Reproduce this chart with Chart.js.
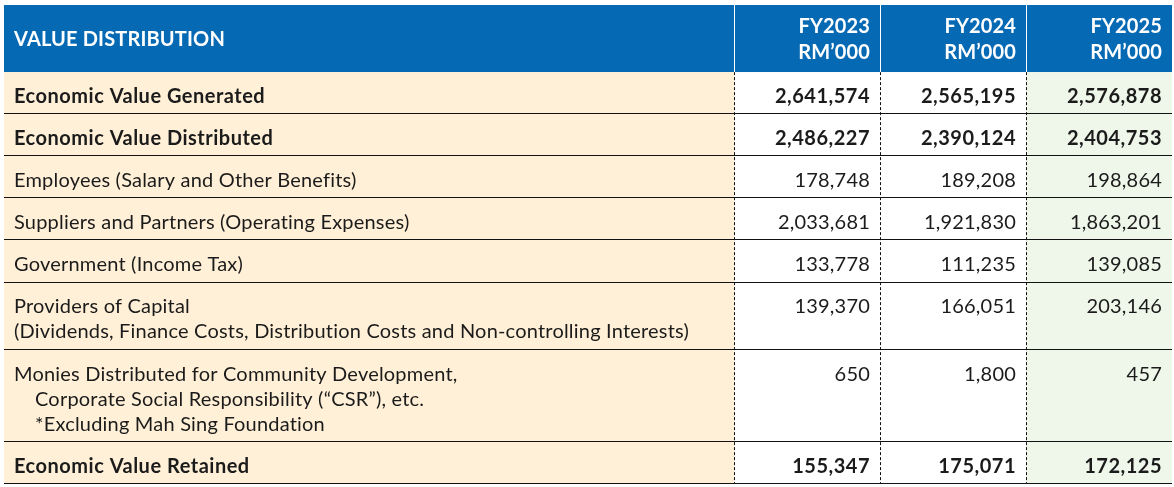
<!DOCTYPE html>
<html>
<head>
<meta charset="utf-8">
<script src="https://cdn.jsdelivr.net/npm/chart.js@4"></script>
<style>
  html, body { margin: 0; padding: 0; background: #fff; }
  #box { width: 1174px; height: 487px; }
</style>
</head>
<body>
<div id="box"><canvas id="tableCanvas"></canvas></div>
<script>
// table content
const titleLabel = "VALUE DISTRIBUTION";
const years = ["FY2023", "FY2024", "FY2025"];
const unitLabel = "RM\u2019000";
const rowLabels = [
    ["Economic Value Generated"],
    ["Economic Value Distributed"],
    ["Employees (Salary and Other Benefits)"],
    ["Suppliers and Partners (Operating Expenses)"],
    ["Government (Income Tax)"],
    ["Providers of Capital", "(Dividends, Finance Costs, Distribution Costs and Non-controlling Interests)"],
    ["Monies Distributed for Community Development,", "Corporate Social Responsibility (\u201cCSR\u201d), etc.", "*Excluding Mah Sing Foundation"],
    ["Economic Value Retained"]
];
const fy2023 = [2641574, 2486227, 178748, 2033681, 133778, 139370, 650, 155347];
const fy2024 = [2565195, 2390124, 189208, 1921830, 111235, 166051, 1800, 175071];
const fy2025 = [2576878, 2404753, 198864, 1863201, 139085, 203146, 457, 172125];
const boldRows = [0, 1, 7];

const series = [fy2023, fy2024, fy2025];

// column edges in x units: label column is 5 units, each year 1 unit
const colEdges = [0, 5, 6, 7, 8];
// row heights in "line" units
const pad = 0.68;
const headerLines = 2;
const rowTops = [];
let acc = headerLines + pad;
rowLabels.forEach(lines => { rowTops.push(acc); acc += lines.length + pad; });
const totalUnits = acc;

const BLUE = "#0669b4";
const CREAM = "#fff0d7";
const GREEN = "#eff6ea";
const INK = "#1b1b1b";
const FONT = "Lato";
const SIZE = 20;

function setFont(ctx, bold) {
    ctx.font = (bold ? "bold " : "") + SIZE + "px " + FONT;
    ctx.letterSpacing = bold ? "0.5px" : "0.2px";
}

const tablePlugin = {
    id: "valueTable",
    beforeDatasetsDraw(chart) {
        const { ctx, chartArea } = chart;
        const x = chart.scales.x, y = chart.scales.y;
        const px = v => x.getPixelForValue(v);
        const py = v => y.getPixelForValue(v);
        const unit = py(1) - py(0);
        ctx.save();

        // header band
        ctx.fillStyle = BLUE;
        ctx.fillRect(chartArea.left, py(0), chartArea.right - chartArea.left, py(headerLines + pad) - py(0));

        // body columns
        const bodyTop = py(headerLines + pad), bodyBot = py(totalUnits);
        const colFills = [CREAM, "#ffffff", "#ffffff", GREEN];
        for (let c = 0; c < 4; c++) {
            ctx.fillStyle = colFills[c];
            ctx.fillRect(px(colEdges[c]), bodyTop, px(colEdges[c + 1]) - px(colEdges[c]), bodyBot - bodyTop);
        }

        // header separators
        ctx.strokeStyle = "#ffffff";
        ctx.lineWidth = 1;
        for (let c = 1; c < 4; c++) {
            const xx = Math.round(px(colEdges[c])) + 0.5;
            ctx.beginPath(); ctx.moveTo(xx, py(0)); ctx.lineTo(xx, bodyTop); ctx.stroke();
        }

        // row lines
        ctx.strokeStyle = "#111";
        rowLabels.forEach((lines, r) => {
            const yy = Math.round(py(rowTops[r] + lines.length + pad)) - 0.5;
            ctx.beginPath(); ctx.moveTo(chartArea.left, yy); ctx.lineTo(chartArea.right, yy); ctx.stroke();
        });

        // dashed column lines
        ctx.setLineDash([3, 2]);
        for (let c = 1; c < 4; c++) {
            const xx = Math.round(px(colEdges[c])) + 0.5;
            ctx.beginPath(); ctx.moveTo(xx, bodyTop); ctx.lineTo(xx, bodyBot); ctx.stroke();
        }
        ctx.setLineDash([]);

        // header text
        ctx.fillStyle = "#ffffff";
        setFont(ctx, true);
        ctx.letterSpacing = "0.15px";
        ctx.textBaseline = "alphabetic";
        ctx.textAlign = "left";
        ctx.fillText(titleLabel, px(0) + 10, py((headerLines + pad) / 2) + 0.3 * unit);
        ctx.textAlign = "right";
        years.forEach((yr, c) => {
            const right = px(colEdges[c + 2]) - 10;
            ctx.fillText(yr, right, py(1.12));
            ctx.fillText(unitLabel, right, py(2.14));
        });

        // body text
        rowLabels.forEach((lines, r) => {
            const bold = boldRows.includes(r);
            setFont(ctx, bold);
            ctx.fillStyle = INK;
            ctx.textAlign = "left";
            lines.forEach((ln, i) => {
                const indent = (r === 6 && i > 0) ? 21 : 0;
                ctx.fillText(ln, px(0) + 10 + indent, py(rowTops[r] + 1.23 + i));
            });
            ctx.textAlign = "right";
            series.forEach((vals, c) => {
                ctx.fillText(vals[r].toLocaleString("en-US"), px(colEdges[c + 2]) - 10, py(rowTops[r] + 1.23));
            });
        });
        ctx.restore();
    }
};

const tableChart = new Chart(document.querySelector("#tableCanvas"), {
    type: "scatter",
    data: { datasets: [] },
    options: {
        responsive: true,
        maintainAspectRatio: false,
        animation: false,
        layout: { padding: { left: 4, right: 2, top: 5, bottom: 3 } },
        plugins: { legend: { display: false }, tooltip: { enabled: false } },
        scales: {
            x: { type: "linear", min: 0, max: 8, display: false },
            y: { type: "linear", min: 0, max: totalUnits, reverse: true, display: false }
        }
    },
    plugins: [tablePlugin]
});
</script>
</body>
</html>
